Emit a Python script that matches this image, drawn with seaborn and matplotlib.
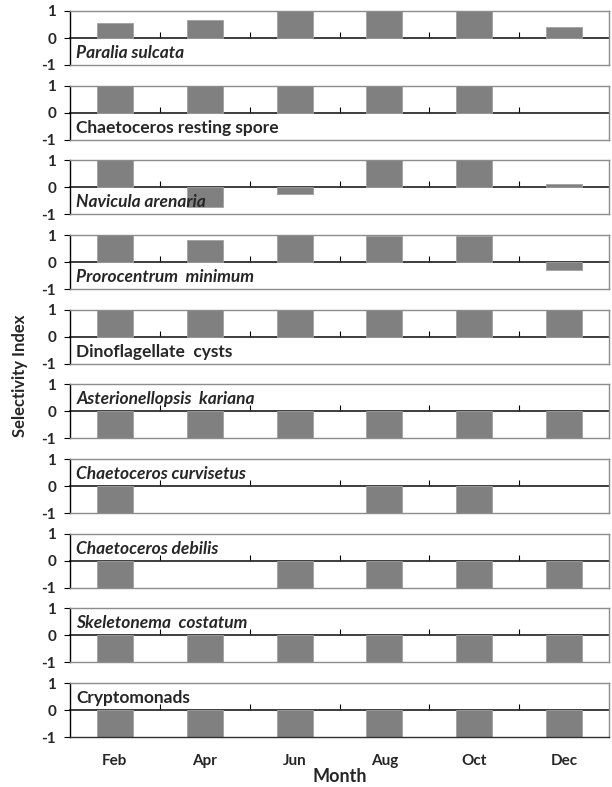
import matplotlib
matplotlib.use("Agg")
import matplotlib.pyplot as plt
import seaborn as sns
import pandas as pd

sns.set_theme(style="white")
plt.rcParams["font.family"] = ["Lato", "DejaVu Sans"]

months = ["Feb", "Apr", "Jun", "Aug", "Oct", "Dec"]

species = [
    "Paralia sulcata",
    "Chaetoceros resting spore",
    "Navicula arenaria",
    "Prorocentrum  minimum",
    "Dinoflagellate  cysts",
    "Asterionellopsis  kariana",
    "Chaetoceros curvisetus",
    "Chaetoceros debilis",
    "Skeletonema  costatum",
    "Cryptomonads",
]
italic = [True, False, True, True, False, True, True, True, True, False]

paralia_sulcata = [0.57, 0.67, 1.0, 1.0, 1.0, 0.41]
chaetoceros_resting_spore = [1.0, 1.0, 1.0, 1.0, 1.0, 0.0]
navicula_arenaria = [1.0, -0.71, -0.25, 1.0, 1.0, 0.13]
prorocentrum_minimum = [1.0, 0.82, 1.0, 0.95, 0.95, -0.30]
dinoflagellate_cysts = [1.0, 1.0, 1.0, 1.0, 1.0, 1.0]
asterionellopsis_kariana = [-1.0, -1.0, -1.0, -1.0, -1.0, -1.0]
chaetoceros_curvisetus = [-1.0, 0.0, 0.0, -1.0, -1.0, 0.0]
chaetoceros_debilis = [-1.0, 0.0, -1.0, -1.0, -1.0, -1.0]
skeletonema_costatum = [-1.0, -1.0, -1.0, -1.0, -1.0, -1.0]
cryptomonads = [-1.0, -1.0, -1.0, -1.0, -1.0, -1.0]

series = [
    paralia_sulcata, chaetoceros_resting_spore, navicula_arenaria,
    prorocentrum_minimum, dinoflagellate_cysts, asterionellopsis_kariana,
    chaetoceros_curvisetus, chaetoceros_debilis, skeletonema_costatum,
    cryptomonads,
]

W, H = 612, 787
fig = plt.figure(figsize=(W / 100, H / 100), dpi=100)

left_px, right_px = 70, 609
top0_px, step_px, height_px = 11, 74.67, 54

frame_gray = "#8c8c8c"
for i, (name, vals) in enumerate(zip(species, series)):
    top = top0_px + i * step_px
    ax = fig.add_axes([left_px / W, 1 - (top + height_px) / H,
                       (right_px - left_px) / W, height_px / H])
    df = pd.DataFrame({"Month": months, "Selectivity Index": vals})
    sns.barplot(data=df, x="Month", y="Selectivity Index", color="#808080",
                saturation=1, width=0.4, linewidth=0, ax=ax)
    # light outline only on bars that have a height
    for bar, v in zip(ax.patches, vals):
        if v != 0:
            bar.set_edgecolor("#a0a0a0")
            bar.set_linewidth(0.6)
    ax.set_xlim(-0.5, len(months) - 0.5)
    ax.set_ylim(-1, 1)
    ax.set_yticks([-1, 0, 1])
    ax.set_yticklabels(["-1", "0", "1"], fontsize=11, fontweight="bold")
    ax.tick_params(axis="y", which="major", direction="out", length=4,
                   width=0.8, color="black", pad=6, left=True)
    ax.set_ylabel("")
    ax.set_xlabel("")
    for side in ["top", "right", "bottom"]:
        ax.spines[side].set_color(frame_gray)
        ax.spines[side].set_linewidth(1.0)
    ax.spines["left"].set_color("black")
    ax.spines["left"].set_linewidth(1.0)

    # zero line with category separators
    zero_ax = ax.secondary_xaxis(0.5)
    zero_ax.set_xticks([k + 0.5 for k in range(len(months) - 1)])
    zero_ax.set_xticklabels([])
    zero_ax.tick_params(direction="out", length=4, width=0.8, color="black")
    zero_ax.spines["bottom"].set_color("black")
    zero_ax.spines["bottom"].set_linewidth(1.0)

    ax.set_xticks(range(len(months)))
    if i < len(species) - 1:
        ax.set_xticklabels([])
        ax.tick_params(axis="x", length=0)
    else:
        ax.set_xticklabels(months, fontsize=11, fontweight="bold")
        ax.tick_params(axis="x", length=0, pad=12)
        ax.spines["bottom"].set_color("#303030")

    label_y = -0.5 if max(vals) > 0 else 0.5
    ax.text(0.012, (label_y + 1) / 2 - 0.03, name, transform=ax.transAxes,
            ha="left", va="center", fontsize=12.5, fontweight="bold",
            fontstyle="italic" if italic[i] else "normal", zorder=5)

fig.text(20 / W, 1 - 376 / H, "Selectivity Index", rotation=90,
         ha="center", va="center", fontsize=12, fontweight="bold")
fig.text(340 / W, 1 - 776 / H, "Month", ha="center", va="center",
         fontsize=13, fontweight="bold")

fig.savefig("out.png", dpi=100, facecolor="white")
